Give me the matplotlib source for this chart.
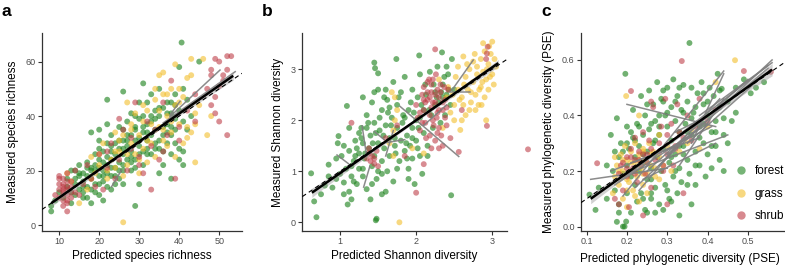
import numpy as np
import matplotlib
matplotlib.use("Agg")
import matplotlib.pyplot as plt

plt.rcParams['font.family'] = ['Liberation Sans', 'DejaVu Sans']

# ---------------- data: panel a (species richness) ----------------
a_forest_x = [8,8,9,10,11,12,12,13,13,14,14,15,15,15,16,16,16,17,17,17,18,18,18,18,19,19,19,20,20,20,20,20,
              21,21,21,21,22,22,22,22,22,23,23,23,23,24,24,24,25,25,25,25,26,26,26,26,26,27,27,27,28,28,28,28,
              29,29,29,29,30,30,30,30,31,31,31,31,32,32,32,33,33,33,34,34,34,35,35,35,36,36,36,37,37,37,38,38,38,
              39,39,39,40,40,40,40.6,41,41,41,42,42,45,43,
              14,15,16,17,18,19,20,21,22,23,24,25,26,27,28,29,30,31,32,33,34,35,36,37,38,39,19,21,23,25,27,29,31,
              33,35,37,39,16,18,20,22,24,26,28,30,32,34,36,38,40,13,14,17,20,23,26,29,32,35,38,41]
a_forest_y = [5,7,9,12,10,14,17,12,20,11,15,13,18,22,12,16,19,14,21,23,8,17,20,34,15,22,26,11,18,24,28,35,
              9,16,20,27,14,22,25,46,37,18,21,29,33,15,26,30,20,23,28,36,22,26,31,49,15,24,29,38,20,27,33,41,
              7,24,31,36,26,29,45,15,34,52,22,40,28,37,31,33,26,48,35,39,30,40,28,50,33,43,22,37,45,30,41,26,17,
              35,48,30,58,42,24,67,38,50,22,35,46,60,40,
              17,19,14,18,21,20,15,23,19,27,21,31,28,33,23,35,32,27,34,38,28,43,36,41,33,39,12,18,24,17,31,21,36,
              40,31,34,44,10,13,21,30,18,35,25,39,26,42,27,36,28,8,20,10,31,13,20,40,45,19,45,27]
a_grass_x = [12,13,15,17,18,19,20,21,22,23,24,24,25,26,26,26,27,27,28,28,29,29,30,30,31,31,32,32,33,34,34,35,35,
             36,36,36,37,37,38,38,39,39,39,40,41,41,42,42,43,43,43,44,46,47,48,44,40,
             18,20,22,24,25,27,28,30,31,32,33,35,37,38,40,42,44,45,36,34]
a_grass_y = [19,16,8,13,25,19,22,30,17,24,34,21,27,1,33,18,22,45,30,37,26,41,19,33,28,38,23,42,30,46,25,36,55,
             31,48,56,40,29,50,34,59,44,25,37,47,30,36,54,61,55,34,23,61,33,40,41,50,
             17,26,20,27,31,26,35,24,44,31,37,42,48,38,45,32,37,44,35,50]
a_shrub_x = [10,10,10,11,11,11,11,11,12,12,12,12,12,13,13,11,12,13,14,16,17,19,20,21,22,23,24,25,26,27,28,29,30,
             31,32,33,33,35,36,37,38,39,40,42,44,47,49,50,51,52,53,52,51,50,49,48,49,50,52,48,
             9,10,11,12,13,12,11,10,14,15,18,22,25,28,30,34,36,40,44,48]
a_shrub_y = [18,13,10,15,12,9,7,17,14,11,8,5,13,10,16,13,16,12,20,15,22,14,26,13,27,30,17,39,35,20,32,45,25,
             19,38,13,29,24,45,33,53,17,31,42,48,50,61,60,55,62,62,57,53,51,47,44,41,38,33,57,
             11,15,14,19,14,9,11,17,12,11,17,21,24,28,22,35,27,36,38,55]
a_fit = [8.0, 53.5, 8.0, 54.8]          # x0, x1, y0, y1 of overall fit
a_ci = [1.3, 0.5, 1.6]                  # half width of band at start, middle, end
a_sites = [[37.7, 39.8, 50.2, 56.9], [36.0, 37.5, 54.0, 56.3], [23.1, 14.1, 25.6, 20.2],
           [27.3, 27.0, 31.0, 31.3], [37.7, 40.4, 40.2, 45.4]]

# ---------------- data: panel b (Shannon diversity) ----------------
b_forest_x = [0.62,0.66,0.69,0.75,0.8,0.85,0.9,0.95,0.98,0.97,1.0,1.02,1.05,1.05,1.08,1.09,1.1,1.12,1.15,1.15,1.18,
              1.2,1.22,1.25,1.25,1.28,1.3,1.3,1.32,1.35,1.35,1.38,1.4,1.4,1.42,1.42,1.45,1.46,1.45,1.45,1.47,1.48,
              1.48,1.5,1.5,1.5,1.52,1.55,1.55,1.55,1.58,1.6,1.6,1.62,1.62,1.65,1.65,1.68,1.7,1.7,1.72,1.74,1.75,
              1.75,1.78,1.8,1.8,1.82,1.85,1.85,1.88,1.9,1.9,1.92,1.95,1.95,1.98,2.0,2.0,2.02,2.04,2.05,2.05,2.08,
              2.1,2.1,2.12,2.15,2.18,2.2,2.22,2.25,2.28,2.3,2.32,2.34,2.35,2.38,2.4,2.42,2.45,2.46,2.47,2.5,1.12,
              1.2,1.3,1.6,1.9,1.95,2.4,
              1.15,1.22,1.28,1.33,1.37,1.43,1.47,1.52,1.57,1.63,1.67,1.73,1.77,1.83,1.87,1.93,1.97,2.03,2.07,2.13,
              2.17,2.23,2.27,2.33,2.37,2.43,1.25,1.35,1.45,1.55,1.65,1.75,1.85,1.95,2.05,2.15,2.25,2.35,0.85,0.95,
              1.05,1.12,1.18,1.42,1.58,1.72,1.88,2.02,1.3,1.5]
b_forest_y = [0.96,0.41,0.10,0.55,0.72,1.13,0.68,0.85,1.69,1.55,0.95,1.3,0.55,0.78,1.05,2.28,0.35,1.4,0.45,0.9,1.2,
              1.6,0.75,1.35,1.05,1.85,0.9,1.55,1.25,2.1,0.65,1.45,1.7,0.45,1.1,2.35,3.13,3.02,1.95,1.3,0.04,0.07,
              0.85,2.92,1.55,2.6,1.8,1.2,2.2,0.55,1.45,1.9,2.6,1.0,2.4,1.65,1.3,2.05,0.8,2.75,1.5,3.2,1.85,
              2.3,1.2,1.6,2.55,1.95,1.4,2.85,1.7,2.2,1.05,1.5,2.6,1.85,0.75,2.0,1.6,2.45,3.27,1.3,2.9,0.95,
              1.75,2.2,2.7,1.5,2.95,2.1,1.85,2.55,3.05,2.35,1.95,3.33,2.7,2.1,2.5,2.9,2.3,0.53,3.2,2.6,1.85,
              1.3,1.05,0.6,0.85,1.25,3.05,
              1.1,1.45,1.65,1.35,1.95,1.55,1.75,2.05,1.7,2.15,1.9,1.35,2.45,2.1,1.55,2.35,2.15,1.85,2.3,2.5,
              2.2,2.7,2.45,2.55,2.85,2.6,1.75,1.85,2.55,0.95,2.25,1.05,2.05,1.65,2.05,1.3,2.3,2.45,0.9,1.25,
              1.5,0.6,0.8,0.75,2.45,1.65,1.25,1.45,2.45,1.0]
b_grass_x = [1.78,1.65,1.68,1.7,1.72,1.7,1.75,1.95,2.1,2.3,2.35,2.4,2.45,2.5,2.55,2.55,2.58,2.6,2.62,2.65,2.65,
             2.68,2.7,2.72,2.75,2.75,2.78,2.8,2.82,2.85,2.85,2.88,2.88,2.9,2.92,2.92,2.95,2.95,2.98,3.0,3.0,3.02,
             3.05,2.78,2.6,2.5,
             2.52,2.57,2.63,2.67,2.72,2.77,2.83,2.87,2.93,2.97,3.03,2.7,2.8,2.9,2.62,1.72,2.42,2.48,2.86,2.96]
b_grass_y = [0.0,1.55,2.55,1.8,2.0,1.3,2.2,1.45,1.35,2.8,1.85,2.45,2.15,2.3,2.6,3.05,1.81,2.45,3.25,2.85,2.1,
             2.6,3.0,2.35,2.75,3.15,2.5,2.9,2.3,3.2,2.65,3.51,2.95,2.45,2.0,2.8,3.1,2.6,3.3,3.54,2.9,2.7,
             3.05,2.2,2.0,2.0,
             2.85,2.4,2.7,3.1,2.55,3.3,2.6,2.75,3.0,2.85,3.2,2.2,3.05,3.35,2.3,2.45,2.65,2.5,2.3,3.45]
b_shrub_x = [1.15,1.35,1.38,1.4,1.42,1.45,1.48,1.6,1.75,1.85,2.0,2.1,2.0,2.02,2.05,2.08,2.1,2.1,2.12,2.15,2.15,
             2.18,2.18,2.2,2.2,2.22,2.22,2.25,2.25,2.25,2.28,2.28,2.3,2.3,2.32,2.35,2.35,2.38,2.4,2.42,2.45,2.56,
             2.6,2.93,2.94,2.93,2.92,2.2,2.3,3.47,
             2.05,2.08,2.12,2.15,2.18,2.2,2.22,2.25,2.27,2.3,2.32,2.35,2.37,2.4,2.13,2.17,2.23,2.28,2.33,2.38,
             2.1,2.26,1.45,1.5,1.38]
b_shrub_y = [1.95,1.25,1.35,1.2,1.3,1.15,1.4,1.65,1.9,1.3,0.58,1.14,2.3,2.05,1.8,2.5,2.2,2.65,1.95,2.4,2.75,
             2.1,1.7,2.55,2.25,2.0,2.8,3.39,2.35,1.6,2.6,2.15,1.85,2.45,2.7,2.2,1.5,2.4,1.9,2.6,1.65,1.38,
             2.2,1.89,3.44,3.31,3.2,1.45,1.45,1.43,
             2.15,1.95,2.35,2.55,2.45,2.7,2.35,2.5,2.05,2.2,2.55,2.35,2.65,2.25,1.65,2.8,1.9,1.75,1.7,2.05,
             2.4,2.9,1.25,1.1,1.45]
b_fit = [0.63, 3.08, 0.58, 3.12]
b_ci = [0.09, 0.025, 0.07]
b_sites = [[0.96, 1.32, 1.11, 1.15], [1.29, 1.89, 1.35, 1.29], [1.79, 2.27, 2.56, 1.29],
           [1.31, 0.69, 1.39, 1.09], [2.47, 2.59, 2.75, 3.18], [2.45, 2.56, 2.71, 2.56],
           [1.55, 1.55, 1.85, 1.62], [2.10, 1.90, 2.40, 2.30], [1.60, 1.30, 1.70, 1.80],
           [1.45, 1.78, 1.58, 1.62]]

# ---------------- data: panel c (PSE) ----------------
c_forest_x = [0.107,0.122,0.13,0.15,0.16,0.165,0.17,0.175,0.175,0.18,0.18,0.185,0.19,0.194,0.196,0.198,0.2,0.2,0.2,
              0.205,0.21,0.21,0.215,0.215,0.22,0.22,0.225,0.225,0.23,0.23,0.235,0.235,0.24,0.24,0.245,0.245,0.25,
              0.25,0.255,0.255,0.26,0.26,0.265,0.265,0.27,0.27,0.275,0.275,0.28,0.28,0.285,0.285,0.29,0.29,0.295,
              0.295,0.3,0.3,0.305,0.305,0.31,0.31,0.315,0.315,0.32,0.32,0.325,0.325,0.33,0.33,0.335,0.335,0.34,
              0.34,0.345,0.35,0.35,0.355,0.355,0.36,0.36,0.365,0.37,0.37,0.375,0.38,0.38,0.385,0.39,0.39,0.395,
              0.4,0.4,0.405,0.41,0.41,0.415,0.42,0.42,0.425,0.43,0.43,0.435,0.44,0.44,0.45,0.46,0.47,0.49,0.507,
              0.52,0.54,0.15,0.17,0.19,0.25,0.3,0.28,0.36,0.22,0.26,0.33,
              0.2,0.22,0.24,0.26,0.28,0.3,0.32,0.34,0.36,0.38,0.4,0.42,0.44,0.21,0.23,0.25,0.27,0.29,0.31,0.33,
              0.35,0.37,0.39,0.41,0.43,0.18,0.19,0.27,0.29,0.31,0.33,0.35,0.37,0.39,0.45,0.47,0.24,0.26,0.32,0.34]
c_forest_y = [0.115,0.06,0.14,0.1,0.33,0.2,0.13,0.017,0.39,0.25,0.08,0.3,0.0,0.0,0.55,0.018,0.22,0.12,0.36,
              0.28,0.05,0.18,0.42,0.32,0.15,0.25,0.09,0.37,0.2,0.29,0.47,0.12,0.33,0.23,0.06,0.4,0.17,
              0.27,0.49,0.35,0.1,0.21,0.3,0.44,0.14,0.38,0.25,0.52,0.08,0.33,0.2,0.46,0.06,0.28,0.4,
              0.15,0.5,0.36,0.23,0.1,0.43,0.31,0.18,0.53,0.38,0.26,0.12,0.47,0.34,0.21,0.42,0.16,0.51,
              0.29,0.37,0.24,0.45,0.661,0.19,0.33,0.5,0.41,0.27,0.15,0.48,0.36,0.22,0.52,0.3,0.44,0.18,
              0.4,0.26,0.5,0.34,0.21,0.47,0.38,0.29,0.55,0.24,0.43,0.496,0.33,0.2,0.45,0.38,0.5,0.53,0.48,
              0.5,0.52,0.22,0.27,0.19,0.05,0.13,0.4,0.08,0.31,0.37,0.04,
              0.3,0.2,0.26,0.17,0.36,0.41,0.45,0.26,0.39,0.32,0.45,0.34,0.39,0.34,0.36,0.44,0.31,0.49,0.25,0.5,
              0.34,0.43,0.37,0.29,0.49,0.05,0.27,0.05,0.45,0.09,0.29,0.15,0.22,0.48,0.3,0.41,0.1,0.12,0.2,0.41]
c_grass_x = [0.165,0.17,0.175,0.18,0.185,0.19,0.19,0.195,0.198,0.2,0.205,0.21,0.21,0.215,0.22,0.22,0.225,0.23,
             0.235,0.24,0.24,0.245,0.25,0.255,0.26,0.265,0.27,0.28,0.29,0.3,0.31,0.23,0.25,0.33,0.35,0.36,0.38,
             0.42,0.468,0.4,0.28,0.2,0.23,
             0.18,0.19,0.2,0.21,0.22,0.23,0.24,0.25,0.26,0.27,0.2,0.22,0.24,0.17,0.28]
c_grass_y = [0.12,0.18,0.22,0.15,0.26,0.2,0.1,0.29,0.47,0.24,0.16,0.27,0.2,0.13,0.23,0.3,0.18,0.26,
             0.21,0.15,0.28,0.24,0.19,0.3,0.22,0.27,0.18,0.25,0.22,0.29,0.2,0.4,0.12,0.27,0.3,0.35,0.28,
             0.52,0.599,0.36,0.33,0.07,0.09,
             0.2,0.24,0.17,0.23,0.2,0.24,0.19,0.23,0.26,0.21,0.13,0.11,0.27,0.25,0.17]
c_shrub_x = [0.126,0.17,0.18,0.185,0.19,0.2,0.2,0.205,0.21,0.21,0.215,0.22,0.22,0.225,0.23,0.235,0.24,0.24,0.245,
             0.25,0.255,0.26,0.265,0.27,0.28,0.285,0.29,0.295,0.3,0.31,0.315,0.32,0.325,0.33,0.336,0.34,0.35,
             0.36,0.38,0.4,0.42,0.49,0.557,0.26,0.3,
             0.19,0.2,0.21,0.22,0.23,0.24,0.25,0.26,0.28,0.3,0.32,0.34,0.37,0.29,0.18]
c_shrub_y = [0.228,0.1,0.08,0.22,0.13,0.25,0.18,0.07,0.488,0.28,0.21,0.32,0.24,0.16,0.27,0.22,0.34,0.04,0.19,
             0.26,0.31,0.14,0.43,0.24,0.3,0.36,0.2,0.46,0.26,0.37,0.22,0.29,0.44,0.34,0.596,0.12,0.4,
             0.31,0.46,0.38,0.42,0.56,0.557,0.45,0.08,
             0.23,0.21,0.25,0.19,0.24,0.26,0.23,0.28,0.27,0.33,0.28,0.32,0.36,0.22,0.19]
c_fit = [0.11, 0.56, 0.10, 0.565]
c_ci = [0.018, 0.006, 0.022]
c_sites = [[0.11, 0.17, 0.30, 0.21], [0.20, 0.44, 0.42, 0.36], [0.19, 0.11, 0.44, 0.56],
           [0.22, 0.14, 0.56, 0.60], [0.17, 0.15, 0.55, 0.58], [0.25, 0.20, 0.50, 0.53],
           [0.20, 0.19, 0.45, 0.33], [0.28, 0.22, 0.43, 0.46], [0.24, 0.17, 0.42, 0.30],
           [0.30, 0.26, 0.55, 0.57], [0.18, 0.16, 0.40, 0.37], [0.33, 0.22, 0.44, 0.46],
           [0.16, 0.20, 0.34, 0.30], [0.26, 0.25, 0.41, 0.36], [0.35, 0.30, 0.52, 0.52],
           [0.21, 0.23, 0.38, 0.32], [0.23, 0.13, 0.33, 0.30], [0.36, 0.30, 0.44, 0.55],
           [0.32, 0.34, 0.43, 0.42], [0.38, 0.40, 0.56, 0.59]]

groups = ['forest', 'grass', 'shrub']
colors = {'forest': '#1c821c', 'grass': '#f3be2c', 'shrub': '#bd3a44'}
alphas = {'forest': 0.62, 'grass': 0.6, 'shrub': 0.58}

panels = [
    dict(letter='a', pos=[42, 242], xlim=(5.7, 55.7), ylim=(-2.2, 70.5),
         xticks=[10, 20, 30, 40, 50], yticks=[0, 20, 40, 60], fmt='{:g}',
         yfmt='{:g}',
         xlabel='Predicted species richness', ylabel='Measured species richness',
         data={'forest': (a_forest_x, a_forest_y), 'grass': (a_grass_x, a_grass_y),
               'shrub': (a_shrub_x, a_shrub_y)},
         fit=a_fit, ci=a_ci, sites=a_sites),
    dict(letter='b', pos=[302.3, 506.7], xlim=(0.504, 3.19), ylim=(-0.17, 3.71),
         xticks=[1, 2, 3], yticks=[0, 1, 2, 3], fmt='{:g}', yfmt='{:g}',
         xlabel='Predicted Shannon diversity', ylabel='Measured Shannon diversity',
         data={'forest': (b_forest_x, b_forest_y), 'grass': (b_grass_x, b_grass_y),
               'shrub': (b_shrub_x, b_shrub_y)},
         fit=b_fit, ci=b_ci, sites=b_sites),
    dict(letter='c', pos=[581, 785], xlim=(0.086, 0.592), ylim=(-0.016, 0.697),
         xticks=[0.1, 0.2, 0.3, 0.4, 0.5], yticks=[0.0, 0.2, 0.4, 0.6], fmt='{:.1f}', yfmt='{:.1f}',
         xlabel='Predicted phylogenetic diversity (PSE)',
         ylabel='Measured phylogenetic diversity (PSE)',
         data={'forest': (c_forest_x, c_forest_y), 'grass': (c_grass_x, c_grass_y),
               'shrub': (c_shrub_x, c_shrub_y)},
         fit=c_fit, ci=c_ci, sites=c_sites),
]

W, H = 785, 269
fig = plt.figure(figsize=(W / 100, H / 100), dpi=100)
axis_col = '#333333'
tick_col = '#4d4d4d'

for p in panels:
    x0, x1 = p['pos']
    ax = fig.add_axes([x0 / W, 1 - 231 / H, (x1 - x0) / W, (231 - 33) / H])
    for g in groups:
        gx, gy = p['data'][g]
        ax.scatter(gx, gy, s=18, color=colors[g], alpha=alphas[g], edgecolors='none',
                   zorder=2, clip_on=False, label=g)
    for s in p['sites']:
        ax.plot([s[0], s[2]], [s[1], s[3]], color='#7f7f7f', lw=1.1, alpha=0.9, zorder=3)
    fx0, fx1, fy0, fy1 = p['fit']
    xs = np.linspace(fx0, fx1, 50)
    ys = fy0 + (fy1 - fy0) * (xs - fx0) / (fx1 - fx0)
    t = (xs - fx0) / (fx1 - fx0)
    c0, cm, c1 = p['ci']
    hw = np.where(t < 0.5, c0 + (cm - c0) * (t / 0.5) ** 0.7,
                  cm + (c1 - cm) * ((t - 0.5) / 0.5) ** 1.4)
    ax.fill_between(xs, ys - hw, ys + hw, color='#999999', alpha=0.45, lw=0, zorder=4)
    ax.plot(xs, ys, color='black', lw=1.8, zorder=5, solid_capstyle='butt')
    ax.plot(p['xlim'], p['xlim'], color='black', lw=0.8, ls=(0, (4, 3)), zorder=6)
    ax.set_xlim(*p['xlim'])
    ax.set_ylim(*p['ylim'])
    ax.set_xticks(p['xticks'])
    ax.set_xticklabels([p['fmt'].format(v) for v in p['xticks']])
    ax.set_yticks(p['yticks'])
    ax.set_yticklabels([p['yfmt'].format(v) for v in p['yticks']])
    for side in ['top', 'right']:
        ax.spines[side].set_visible(False)
    for side in ['left', 'bottom']:
        ax.spines[side].set_color(axis_col)
        ax.spines[side].set_linewidth(0.9)
    ax.tick_params(axis='both', length=3, width=0.8, color=axis_col, labelsize=6.5,
                   labelcolor=tick_col, pad=1.5)
    ax.set_xlabel(p['xlabel'], fontsize=8.5, labelpad=3, color='black')
    ax.set_ylabel(p['ylabel'], fontsize=8.5, labelpad=5, color='black')
    fig.text((x0 - 40) / W, 1 - 12 / H, p['letter'], fontsize=12.5, fontweight='bold',
             va='center', ha='left')
    if p['letter'] == 'c':
        # centre the long x label where the reference has it (inside the figure)
        ax.xaxis.set_label_coords((679.5 - x0) / (x1 - x0), -0.11)
        ax.xaxis.label.set_va('top')
        handles = [plt.Line2D([], [], ls='', marker='o', ms=6, color=colors[g], alpha=0.6,
                              markeredgewidth=0) for g in groups]
        ax.legend(handles, groups, loc='lower right', bbox_to_anchor=(1.02, 0.02),
                  frameon=False, fontsize=8.5, handletextpad=0.6, labelspacing=0.9,
                  handlelength=1.2, borderaxespad=0)

fig.savefig('out.png', dpi=100)
